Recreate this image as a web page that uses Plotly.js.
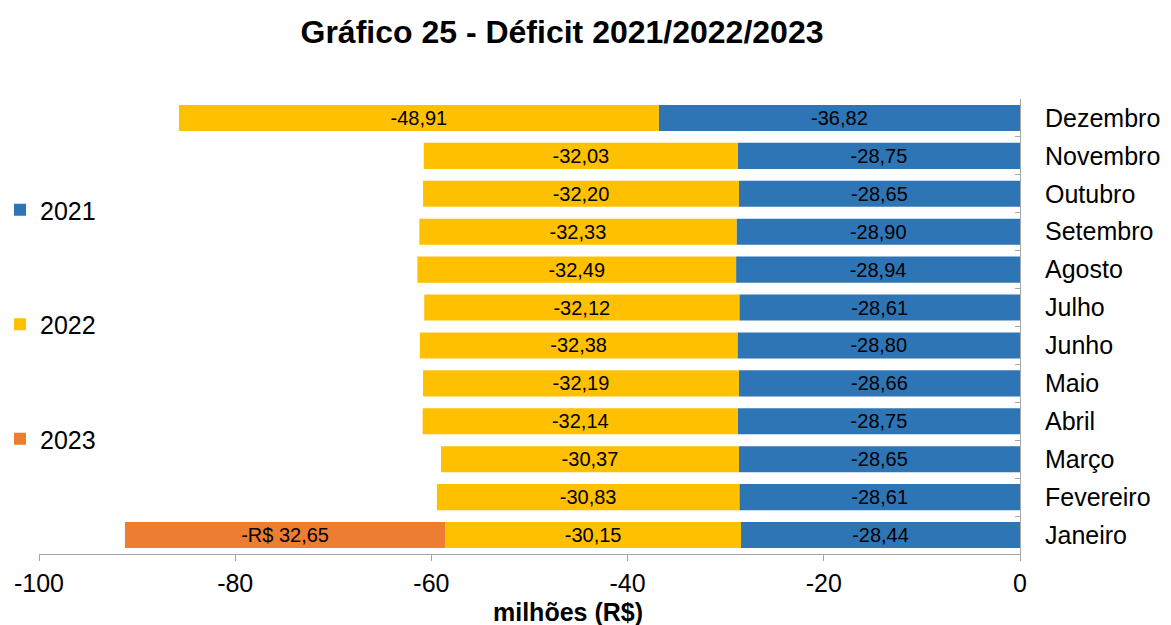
<!DOCTYPE html>
<html>
<head>
<meta charset="utf-8">
<script src="https://cdn.plot.ly/plotly-3.0.1.min.js"></script>
<style>html,body{margin:0;padding:0;background:#fff;}#chart{width:1171px;height:625px;}</style>
</head>
<body>
<div id="chart"></div>
<script>
const months = ['Janeiro','Fevereiro','Março','Abril','Maio','Junho','Julho','Agosto','Setembro','Outubro','Novembro','Dezembro'];
const v2021 = [-28.44,-28.61,-28.65,-28.75,-28.66,-28.80,-28.61,-28.94,-28.90,-28.65,-28.75,-36.82];
const v2022 = [-30.15,-30.83,-30.37,-32.14,-32.19,-32.38,-32.12,-32.49,-32.33,-32.20,-32.03,-48.91];
const v2023 = [-32.65,null,null,null,null,null,null,null,null,null,null,null];
const xTickVals = [-100,-80,-60,-40,-20,0];
const xTickText = ['-100','-80','-60','-40','-20','0'];

const fmt = v => v == null ? '' : v.toFixed(2).replace('.', ',');
const fmtRS = v => v == null ? '' : (v < 0 ? '-R$ ' : 'R$ ') + Math.abs(v).toFixed(2).replace('.', ',');

const FONT = 'Arial, "Liberation Sans", sans-serif';

function barTrace(name, vals, color, textFn, group) {
  return {
    type: 'bar', orientation: 'h', name: name, y: months, x: vals,
    marker: {color: color, line: {width: 0}},
    text: vals.map(textFn), textposition: 'inside', insidetextanchor: 'middle',
    textfont: {size: 20, color: '#000', family: FONT},
    constraintext: 'none', cliponaxis: false,
    legendgroup: group, hoverinfo: 'skip'
  };
}

const data = [
  barTrace('2021', v2021, '#2E75B6', fmt, 'g1'),
  barTrace('2022', v2022, '#FFC000', fmt, 'g2'),
  barTrace('2023', v2023, '#ED7D31', fmtRS, 'g3')
];

const layout = {
  width: 1171, height: 625,
  margin: {l: 39, r: 151, t: 99, b: 71, autoexpand: false},
  paper_bgcolor: '#fff', plot_bgcolor: '#fff',
  font: {family: FONT, color: '#000'},
  separators: ',.',
  barmode: 'relative', bargap: 0.31,
  title: {text: '<b>Gráfico 25 - Déficit 2021/2022/2023</b>', font: {size: 32, family: FONT, color: '#000'},
          x: 562/1171, xref: 'container', xanchor: 'center', y: 1 - 32/625, yref: 'container', yanchor: 'middle'},
  xaxis: {range: [-100, 0], tickmode: 'array', tickvals: xTickVals, ticktext: xTickText,
          showgrid: false, zeroline: false, automargin: false,
          showline: true, linecolor: '#A6A6A6', linewidth: 1,
          ticks: 'outside', ticklen: 6, tickcolor: '#A6A6A6',
          tickfont: {size: 25, family: FONT, color: '#000'}, ticklabelstandoff: 1},
  yaxis: {type: 'category', side: 'right', showgrid: false, zeroline: false, automargin: false,
          showline: true, linecolor: '#A6A6A6', linewidth: 1,
          ticks: 'inside', tickson: 'boundaries', ticklen: 5, tickcolor: '#A6A6A6',
          tickfont: {size: 25, family: FONT, color: '#000'}, ticklabelstandoff: 19},
  showlegend: true,
  legend: {orientation: 'v', x: -39/981, xanchor: 'left', y: (554-187)/455, yanchor: 'top',
           traceorder: 'grouped', tracegroupgap: 79, font: {size: 25, family: FONT, color: '#000'},
           bgcolor: 'rgba(0,0,0,0)'},
  annotations: [{text: '<b>milhões (R$)</b>', xref: 'paper', yref: 'paper', x: (568-39)/981, y: 0,
                 yshift: -58, xanchor: 'center', yanchor: 'middle', showarrow: false,
                 font: {size: 25, family: FONT, color: '#000'}}]
};

Plotly.newPlot('chart', data, layout, {displayModeBar: false, staticPlot: true});
</script>
</body>
</html>
